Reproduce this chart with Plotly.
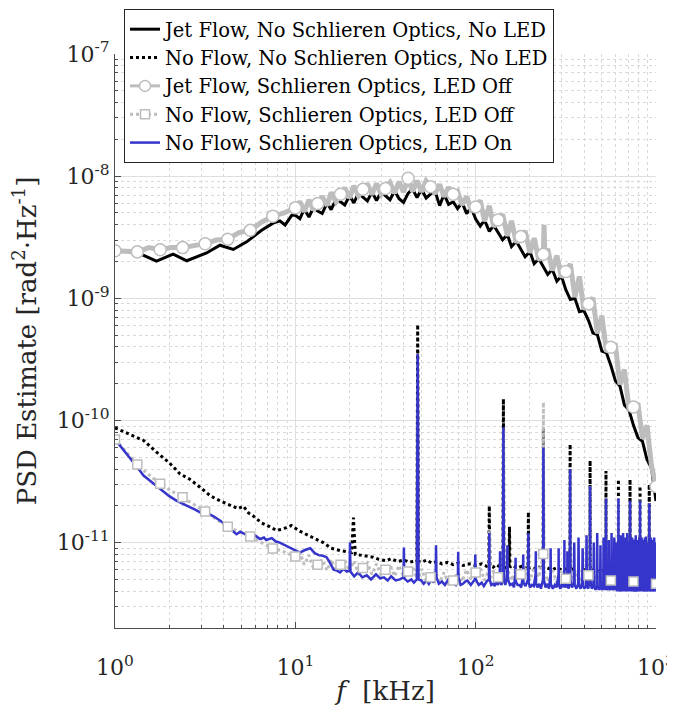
import numpy as np
import plotly.graph_objects as go

# ------------------------------------------------------------------ data
# Series 1: Jet Flow, No Schlieren Optics, No LED  (PSD in units of 1e-9)
F1 = [1.0, 1.26, 1.70, 2.1, 2.5, 3.22, 3.82, 4.53, 5.37, 5.82, 6.5, 7.52, 8.2, 8.77, 9.55,
      10, 10.6, 11.2, 11.9, 12.6, 13.3, 14.1, 15.0, 15.8, 16.8, 17.8, 18.8, 20.0, 21.1, 22.4,
      23.7, 25.1, 26.6, 28.2, 29.9, 31.6, 33.5, 35.5, 37.6, 39.8, 42.2, 44.7, 47.3, 50.1, 53.1,
      56.2, 59.6, 63.1, 66.8, 70.8, 75.0, 79.4, 84.1, 89.1, 94.4, 100, 106, 112, 119, 126,
      133, 141, 150, 158, 168, 178, 188, 200, 211, 224, 237, 251, 266, 282, 299,
      316, 335, 355, 376, 398, 422, 447, 473, 501, 531, 562, 596, 631, 668, 708,
      750, 794, 841, 891, 944, 1000]
P1_E9 = [2.40, 2.45, 2.02, 2.30, 2.03, 2.35, 2.72, 2.51, 2.90, 3.18, 3.60, 4.12, 4.30, 3.98, 4.78,
         4.79, 4.49, 5.36, 4.63, 5.53, 5.19, 4.95, 6.03, 5.32, 6.47, 6.18, 5.81, 6.95, 6.04, 7.23,
         6.79, 6.28, 7.40, 6.31, 7.45, 6.89, 6.41, 7.60, 6.53, 6.10, 7.24, 7.85, 6.67, 7.82, 6.62,
         7.14, 7.52, 5.74, 7.10, 5.87, 6.18, 5.43, 6.10, 4.94, 5.55, 4.45, 3.90, 4.37, 3.53, 3.95,
         3.47, 3.01, 3.32, 2.65, 2.93, 2.54, 2.19, 2.41, 1.92, 2.11, 1.82, 1.57, 1.73, 1.38, 1.52,
         1.175, 0.977, 1.00, 0.776, 0.794, 0.661, 0.520, 0.504, 0.370, 0.358, 0.282, 0.210, 0.192, 0.134, 0.122,
         0.0912, 0.0724, 0.0676, 0.0479, 0.0407, 0.0219]

# Series 2: No Flow, No Schlieren Optics, No LED  (PSD in units of 1e-12)
F2 = [1, 1.2, 1.44, 1.7, 2.0, 2.29, 2.6, 2.96, 3.4, 3.82, 4.3, 4.8, 5.15, 5.5, 5.85, 6.5, 7.2,
      7.87, 8.5, 9.5, 10.5, 11.6, 12.8, 14.3, 15.8, 17.7, 19.5, 20.5, 21, 21.5, 23, 24.9, 27, 29,
      31.9, 34, 37, 40, 43, 46, 47.2, 47.7, 48.2, 50, 53.5, 57, 61, 65, 70, 75, 80, 85, 92, 100,
      108, 115, 118, 119, 120, 125, 130, 137, 141.5, 142.5, 143.5, 148, 153, 154, 155, 160, 170,
      180, 190, 195, 196, 197, 205, 215, 225, 236.5, 237.5, 238.5, 250, 265, 280, 300, 320, 333,
      334, 335, 350, 370, 390, 410, 430, 431, 432, 450, 480, 510, 527, 528, 529, 560, 590, 618,
      619, 620, 650, 690, 717, 718, 719, 760, 790, 815, 816, 817, 850, 880, 917, 918, 919, 950,
      980, 1000]
P2_E12 = [87, 77, 68.6, 55, 45, 36.6, 33, 28.4, 24, 22, 20.5, 19, 19.9, 17.5, 16.5, 14.5, 13.5,
          12.6, 12.9, 13.8, 12.5, 11.7, 10.8, 10.0, 9.0, 8.6, 8.4, 8.3, 16, 8.0, 7.9, 7.8, 7.6, 7.3,
          7.1, 7.4, 7.0, 7.2, 6.9, 7.1, 7.0, 610, 7.0, 6.9, 7.2, 6.8, 7.0, 6.7, 6.9, 6.6, 6.8, 6.5, 6.7, 6.5,
          6.7, 6.4, 6.5, 20, 6.5, 6.3, 6.6, 6.3, 6.4, 150, 6.4, 6.2, 6.3, 13.5, 6.3, 6.5, 6.2,
          6.4, 6.2, 6.2, 17.8, 6.2, 6.3, 6.1, 6.3, 6.1, 85, 6.1, 6.2, 6.0, 6.2, 6.0, 6.1, 6.0,
          64, 6.0, 6.1, 5.9, 6.1, 5.9, 5.9, 47, 5.9, 6.0, 5.8, 5.9, 5.8, 38.5, 5.8, 5.9, 5.8, 5.7,
          33, 5.7, 5.8, 5.7, 5.6, 33, 5.6, 5.7, 5.6, 5.6, 29, 5.6, 5.5, 5.6, 5.5, 30, 5.5, 5.5,
          5.5, 5.4]

# Series 3: Jet Flow, Schlieren Optics, LED Off  (PSD in units of 1e-9)
F3 = [1, 1.155, 1.33, 1.54, 1.78, 2.05, 2.37, 2.74, 3.16, 3.65, 4.22, 4.87, 5.62, 6.49, 7.5, 8.66,
      10, 10.6, 11.2, 11.9, 12.6, 13.3, 14.1, 15.0, 15.8, 16.8, 17.8, 18.8, 20.0, 21.1, 22.4,
      23.7, 25.1, 26.6, 28.2, 29.9, 31.6, 33.5, 35.5, 37.6, 39.8, 42.2, 44.7, 47.3, 50.1, 53.1,
      56.2, 59.6, 63.1, 66.8, 70.8, 75.0, 79.4, 84.1, 89.1, 94.4, 100, 106, 112, 119, 126,
      133, 141, 150, 158, 168, 178, 188, 200, 211, 224, 237, 239.5, 242, 251, 266, 282, 299,
      316, 335, 355, 376, 398, 422, 447, 473, 501, 531, 562, 596, 631, 668, 708,
      750, 794, 841, 891, 944, 1000]
P3_E9 = [2.45, 2.42, 2.40, 2.60, 2.50, 2.60, 2.60, 2.70, 2.80, 3.00, 3.05, 3.45, 3.60, 4.20, 4.70, 5.00,
         5.50, 6.19, 5.12, 6.40, 5.28, 5.96, 6.84, 5.75, 7.35, 6.18, 7.10, 8.02, 6.64, 8.34, 6.90,
         7.80, 8.67, 7.06, 8.71, 7.11, 7.91, 8.85, 7.26, 9.02, 7.41, 9.60, 7.50, 9.20, 7.46, 9.14,
         8.20, 7.18, 8.59, 6.78, 8.11, 7.10, 7.50, 5.82, 6.82, 5.30, 5.60, 6.32, 4.27, 5.73, 3.86,
         4.37, 4.88, 3.24, 4.31, 2.86, 3.20, 3.56, 2.36, 3.11, 2.06, 2.29, 4.0, 2.2, 2.55, 1.69, 2.24, 1.49,
         1.66, 1.91, 1.02, 1.51, 0.813, 0.90, 1.01, 0.515, 0.721, 0.366, 0.398, 0.409, 0.197, 0.261, 0.125,
         0.129, 0.138, 0.0708, 0.0912, 0.0427, 0.0288]
MARK3_F = [1, 1.33, 1.78, 2.37, 3.16, 4.22, 5.62, 7.5, 10, 13.3, 17.8, 23.7, 31.6, 42.2, 56.2,
           75.0, 100, 133, 178, 237, 316, 422, 562, 750, 1000]

# Series 4: No Flow, Schlieren Optics, LED Off  (PSD in units of 1e-12)
F4 = [1, 1.155, 1.33, 1.54, 1.78, 2.05, 2.37, 2.74, 3.16, 3.65, 4.22, 4.87, 5.62, 6.49, 7.5, 8.66,
      10, 10.6, 11.2, 11.9, 12.6, 13.3, 14.1, 15.0, 15.8, 16.8, 17.8, 18.8, 20.0, 21.1, 22.4, 23.7,
      25.1, 26.6, 28.2, 29.9, 31.6, 33.5, 35.5, 37.6, 39.8, 42.2, 44.7, 47.2, 47.7, 48.2, 50.1,
      53.1, 56.2, 59.6, 63.1, 66.8, 70.8, 75.0, 79.4, 84.1, 89.1, 94.4, 100, 106, 112, 118.5,
      119, 119.5, 126, 133, 141.5, 142.5, 143.5, 150, 158, 168, 178, 188, 200, 211, 224, 237,
      237.5, 238.5, 251, 266, 282, 299, 316, 333, 334, 335, 355, 376, 398, 422, 430, 431, 432,
      447, 473, 501, 527, 528, 529, 562, 596, 618, 619, 620, 631, 668, 708, 717, 718, 719, 750,
      794, 815, 816, 817, 841, 891, 917, 918, 919, 944, 1000]
P4_E12 = [70, 55, 43.7, 36, 30.3, 26.5, 23.5, 20.5, 18, 15.5, 13.5, 12.3, 11.2, 10.0, 8.97, 8.4,
          7.7, 8.3, 6.6, 7.9, 6.2, 6.6, 7.3, 5.9, 7.3, 5.9, 6.6, 7.2, 5.8, 7.1, 5.6, 6.2,
          6.8, 5.5, 6.7, 5.4, 6.0, 6.6, 5.3, 6.5, 5.3, 5.8, 6.3, 5.1, 350, 5.1, 6.1,
          4.9, 5.2, 5.8, 4.7, 5.7, 4.6, 4.9, 5.7, 4.8, 6.0, 5.0, 5.7, 6.2, 4.9, 6.0,
          12.6, 5.0, 5.9, 5.2, 5.9, 85, 5.0, 6.1, 4.9, 6.1, 5.5, 6.2, 4.9, 6.3, 5.2, 8.07,
          141, 6.0, 4.8, 6.0, 4.7, 5.9, 5.05, 5.9, 40, 5.0, 5.9, 4.7, 6.0, 5.4, 4.8, 29, 5.9,
          4.7, 5.8, 4.6, 5.7, 23, 4.6, 4.9, 5.6, 4.5, 23, 5.6, 4.5, 5.6, 4.4, 5.5, 22, 4.5, 4.8,
          5.5, 4.4, 22, 5.5, 4.4, 5.4, 4.4, 21, 5.4, 4.4, 4.6]
MARK4_F = MARK3_F

# Series 5: No Flow, Schlieren Optics, LED On  (PSD in units of 1e-12)
F5 = [1, 1.1, 1.2, 1.32, 1.44, 1.57, 1.7, 1.85, 2.0, 2.2, 2.4, 2.6, 2.8, 3.0, 3.16, 3.5, 3.82,
      4.2, 4.45, 4.72, 4.95, 5.15, 5.49, 5.75, 6.0, 6.38, 6.7, 6.9, 7.4, 7.8, 8.2, 9.0, 9.8,
      10.6, 11.3, 12.1, 12.8, 13.5, 14.2, 14.9, 15.6, 16.3, 17.0, 17.7, 18.5, 19.3, 20.0, 20.1,
      20.2, 21.2, 22.3, 23.5, 24.9, 26.3, 28, 29.5, 31, 32.5, 34, 36, 38, 39.8, 40, 40.2, 42,
      44, 45.5, 47.2, 47.7, 48.2, 50, 51.5, 53.5, 55, 57, 58.5, 60, 60.3, 60.6, 62.5, 65, 67.5,
      70, 72.5, 75, 77.5, 79.7, 80, 80.3, 82.5, 85, 87.5, 90, 94, 99, 99.5, 100, 104, 108, 111,
      115, 118.5, 119, 119.5, 122, 125, 127.5, 130, 133, 136, 136.5, 137, 139, 141.5, 142.5,
      143.5, 146, 149, 150, 151, 155, 160, 163, 166, 166.5, 167, 171, 175, 179, 183, 183.5, 184,
      189, 195, 196, 197, 200, 205, 210, 215, 215.5, 216, 220, 225, 230, 236.5, 237.5, 238.5,
      244, 250, 255, 260, 260.5, 261, 268, 275, 281, 288, 288.5, 289, 295, 300, 305, 310, 310.5,
      311, 316, 322, 322.5, 323, 328, 333, 334, 335, 342, 350, 352, 354, 362, 370, 372, 374, 382,
      390, 392, 394, 402, 410, 412, 414, 421, 430, 431, 432, 440, 450, 452, 454, 462, 470, 472,
      474, 482, 490, 492, 494, 502, 510, 512, 514, 520, 527, 528, 529, 536, 545, 547, 549, 556,
      565, 567, 569, 577, 585, 587, 589, 594, 600, 602, 604, 610, 618, 619, 620, 627, 635, 637,
      639, 646, 655, 657, 659, 665, 672, 674, 676, 683, 690, 692, 694, 700, 705, 707, 709, 713,
      717, 718, 719, 727, 735, 737, 739, 744, 750, 752, 754, 762, 770, 772, 774, 782, 790, 792,
      794, 800, 805, 807, 809, 812, 815, 816, 817, 823, 830, 832, 834, 842, 850, 852, 854, 860,
      865, 867, 869, 874, 880, 882, 884, 892, 900, 902, 904, 910, 917, 918, 919, 927, 935, 937,
      939, 947, 955, 957, 959, 967, 975, 977, 979, 987, 995, 997, 1000]
P5_E12 = [70, 58, 50, 42, 35.4, 32, 29, 26, 24, 22, 20.5, 19.5, 18.5, 17.5, 17.7, 16.5, 15.2,
          13.5, 12.5, 11.7, 12.3, 11.9, 11.5, 11.8, 11.4, 10.7, 11.0, 10.5, 10.9, 10.2, 10.0, 9.3, 8.8,
          8.3, 8.7, 9.0, 8.2, 7.9, 7.8, 7.6, 6.8, 6.0, 5.9, 5.7, 6.1, 5.8, 5.9, 10.0,
          5.8, 5.3, 5.7, 5.2, 5.4, 5.0, 5.5, 5.1, 5.2, 4.9, 5.3, 4.9, 5.0, 5.2, 9.1, 5.1, 4.8,
          5.0, 4.7, 5.0, 350, 5.0, 4.9, 4.6, 4.9, 4.6, 5.0, 4.7, 5.2, 9.5, 5.2, 4.6, 4.8, 4.5,
          4.9, 4.6, 4.7, 4.5, 5.2, 8.4, 5.2, 4.5, 4.6, 4.8, 4.9, 4.5, 5.0, 8.0, 5.0, 4.5, 4.7, 4.4,
          4.8, 5.0, 12.0, 5.0, 4.5, 4.6, 4.4, 4.8, 4.5, 5.2, 8.5, 4.8, 4.5, 5.0, 88,
          5.0, 4.5, 5.2, 9.5, 5.0, 4.5, 4.6, 4.3, 5.5, 7.5, 4.8, 4.5, 4.5, 4.3, 5.5, 8.0, 4.7,
          4.4, 5.0, 12.0, 4.7, 4.3, 4.5, 4.4, 5.5, 8.5, 4.6, 4.3, 4.6, 4.2, 5.0, 60, 5.0,
          4.3, 4.6, 4.2, 5.5, 9.0, 4.6, 4.2, 4.5, 4.3, 5.5, 9.0, 4.5, 4.2, 4.6, 4.3, 5.8, 10.5,
          4.5, 4.3, 4.8, 8.5, 4.5, 4.2, 5.0, 40, 5.0, 4.3, 4.6, 10, 4.5, 4.2, 4.6, 11, 4.5, 4.2,
          4.7, 9, 4.4, 4.2, 4.5, 11.5, 4.4, 4.2, 5.0, 29, 5.0, 4.2, 4.4, 10, 4.4, 4.1, 4.5, 12,
          4.4, 4.1, 4.4, 9.5, 4.3, 4.1, 4.4, 11, 4.3, 4.1, 4.6, 23, 4.6, 4.1, 4.3, 10.5, 4.3, 4.1,
          4.3, 12, 4.3, 4.1, 4.3, 11, 4.2, 4.1, 4.3, 10, 4.2, 4.0, 4.5, 23, 4.5, 4.0, 4.2, 11.5,
          4.2, 4.0, 4.3, 12, 4.2, 4.0, 4.2, 11, 4.2, 4.0, 4.2, 12, 4.2, 4.0, 4.3, 10, 4.2, 4.0,
          4.5, 22, 4.5, 4.0, 4.2, 11, 4.2, 4.0, 4.2, 10.6, 4.1, 4.0, 4.2, 11.5, 4.1, 4.0, 4.2, 10.5,
          4.1, 4.0, 4.2, 11, 4.1, 4.0, 4.4, 22, 4.4, 4.0, 4.2, 11, 4.1, 4.0, 4.1, 10.5, 4.1, 4.0,
          4.2, 11, 4.1, 4.0, 4.2, 11.2, 4.1, 4.0, 4.1, 10, 4.1, 4.0, 4.4, 21, 4.4, 4.0, 4.1, 11,
          4.1, 4.0, 4.1, 10.5, 4.1, 4.0, 4.1, 11, 4.1, 4.0, 4.2, 10, 4.5]

NAMES = ["Jet Flow, No Schlieren Optics, No LED",
         "No Flow, No Schlieren Optics, No LED",
         "Jet Flow, Schlieren Optics, LED Off",
         "No Flow, Schlieren Optics, LED Off",
         "No Flow, Schlieren Optics, LED On"]

X_TICK_VALS = [1, 10, 100, 1000]
X_TICK_TEXT = ["10<sup>0</sup>", "10<sup>1</sup>", "10<sup>2</sup>", "10<sup>3</sup>"]
Y_TICK_VALS = [1e-11, 1e-10, 1e-9, 1e-8, 1e-7]
Y_TICK_TEXT = ["10<sup>-11</sup>", "10<sup>-10</sup>", "10<sup>-9</sup>", "10<sup>-8</sup>", "10<sup>-7</sup>"]

for f, p in [(F1, P1_E9), (F2, P2_E12), (F3, P3_E9), (F4, P4_E12), (F5, P5_E12)]:
    assert len(f) == len(p), (len(f), len(p))

# ------------------------------------------------------------------ style
BLACK = "#000000"
GRAY = "#bdbdbd"
BLUE = "#3535cc"
FONT = "DejaVu Serif"
AX = "#4d4d4d"
TXT = "#262626"

y1 = np.array(P1_E9) * 1e-9
y2 = np.array(P2_E12) * 1e-12
y3 = np.array(P3_E9) * 1e-9
y4 = np.array(P4_E12) * 1e-12
y5 = np.array(P5_E12) * 1e-12
i3 = [F3.index(f) for f in MARK3_F]
i4 = [F4.index(f) for f in MARK4_F]

fig = go.Figure()
fig.add_trace(go.Scatter(x=F1, y=y1, mode="lines", name=NAMES[0], legendrank=1, legendgroup="g1",
                         line=dict(color=BLACK, width=3)))
fig.add_trace(go.Scatter(x=F2, y=y2, mode="lines", name=NAMES[1], legendrank=2, legendgroup="g2",
                         line=dict(color=BLACK, width=3, dash="dot")))
fig.add_trace(go.Scatter(x=F3, y=y3, mode="lines", showlegend=False, legendgroup="g3",
                         line=dict(color=GRAY, width=5)))
fig.add_trace(go.Scatter(x=F4, y=y4, mode="lines", showlegend=False, legendgroup="g4",
                         line=dict(color=GRAY, width=3, dash="dot")))
fig.add_trace(go.Scatter(x=F5, y=y5, mode="lines", name=NAMES[4], legendrank=5, legendgroup="g5",
                         line=dict(color=BLUE, width=2.5)))
fig.add_trace(go.Scatter(x=[F3[i] for i in i3], y=[y3[i] for i in i3], mode="markers",
                         showlegend=False, legendgroup="g3",
                         marker=dict(symbol="circle", size=12, color="white",
                                     line=dict(color=GRAY, width=1.5))))
fig.add_trace(go.Scatter(x=[F4[i] for i in i4], y=[y4[i] for i in i4], mode="markers",
                         showlegend=False, legendgroup="g4",
                         marker=dict(symbol="square", size=9, color="white",
                                     line=dict(color=GRAY, width=1.5))))
# legend entries carrying both line and marker
fig.add_trace(go.Scatter(x=[None], y=[None], mode="lines+markers", name=NAMES[2], legendrank=3,
                         legendgroup="g3", line=dict(color=GRAY, width=3),
                         marker=dict(symbol="circle", size=11, color="white",
                                     line=dict(color=GRAY, width=1.5))))
fig.add_trace(go.Scatter(x=[None], y=[None], mode="lines+markers", name=NAMES[3], legendrank=4,
                         legendgroup="g4", line=dict(color=GRAY, width=3, dash="dot"),
                         marker=dict(symbol="square", size=9, color="white",
                                     line=dict(color=GRAY, width=1.5))))

minor_x = [m * 10 ** e for e in range(0, 3) for m in range(2, 10)]
minor_y = [m * 10.0 ** e for e in range(-12, -7) for m in range(2, 10)]

common = dict(
    type="log", showline=True, linecolor=AX, linewidth=1, mirror=False,
    ticks="inside", ticklen=6, tickcolor=AX, tickwidth=1,
    showgrid=True, gridcolor="#dedede", gridwidth=1, zeroline=False,
    tickfont=dict(family=FONT, size=22, color=TXT),
    automargin=False,
)

# The page body adds an 8 px offset, so the figure is 8 px smaller and its
# margins 8 px tighter on the left/top.
fig.update_layout(
    width=667, height=703,
    margin=dict(l=107, r=19, t=46, b=83, autoexpand=False),
    paper_bgcolor="white", plot_bgcolor="white",
    font=dict(family=FONT, color=TXT),
    xaxis=dict(
        common, range=[0, 3], tickmode="array", tickvals=X_TICK_VALS, ticktext=X_TICK_TEXT,
        ticklabelstandoff=20,
        minor=dict(tickmode="array", tickvals=minor_x, ticks="inside", ticklen=3, tickcolor=AX,
                   showgrid=True, gridcolor="#d9d9d9", griddash="dot", gridwidth=1),
        title=dict(text="<i>f</i>  [kHz]", font=dict(family=FONT, size=26, color=TXT),
                   standoff=2),
    ),
    yaxis=dict(
        common, range=[np.log10(2e-12), -7], tickmode="array", tickvals=Y_TICK_VALS,
        ticktext=Y_TICK_TEXT,
        minor=dict(tickmode="array", tickvals=minor_y, ticks="inside", ticklen=3, tickcolor=AX,
                   showgrid=True, gridcolor="#d9d9d9", griddash="dot", gridwidth=1),
        title=dict(text="PSD Estimate [rad<sup>2</sup>·Hz<sup>-1</sup>]",
                   font=dict(family=FONT, size=26, color=TXT), standoff=18),
    ),
    legend=dict(
        x=(124 - 115) / 541, y=1 + (54 - 9) / 574, xanchor="left", yanchor="top",
        bgcolor="white", bordercolor=TXT, borderwidth=1,
        font=dict(family=FONT, size=19.5, color="#000000"),
        traceorder="grouped", tracegroupgap=0, itemwidth=30,
    ),
    showlegend=True,
)

fig.write_html("out.html")
